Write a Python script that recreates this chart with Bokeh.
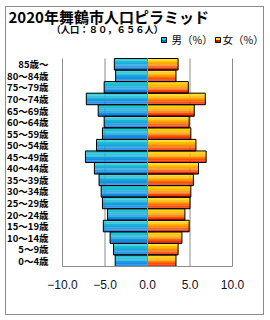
from bokeh.plotting import figure
from bokeh.models import Range1d, FixedTicker, ColumnDataSource
from bokeh.core.properties import value
from bokeh.embed import file_html
from bokeh.resources import INLINE

# ---- data (bottom to top) ----
ages = ["0～4歳", "5～9歳", "10～14歳", "15～19歳", "20～24歳", "25～29歳",
        "30～34歳", "35～39歳", "40～44歳", "45～49歳", "50～54歳", "55～59歳",
        "60～64歳", "65～69歳", "70～74歳", "75～79歳", "80～84歳", "85歳～"]
male = [3.8, 4.0, 4.4, 5.2, 4.7, 5.3, 5.45, 5.7, 6.25, 7.3,
        6.0, 5.3, 5.1, 5.8, 7.2, 5.1, 3.75, 3.9]
female = [3.35, 3.6, 4.05, 4.9, 4.4, 5.0, 5.1, 5.4, 6.0, 6.9,
          5.7, 5.1, 4.9, 5.5, 6.8, 4.8, 3.35, 3.6]
x_ticks = [-10, -5, 0, 5, 10]
x_tick_labels = ["−10.0", "−5.0", "0.0", "5.0", "10.0"]
title_text = "2020年舞鶴市人口ピラミッド"
subtitle_text = "（人口：８０，６５６人）"
legend_labels = ["男（%）", "女（%）"]

# ---- layout: canvas sits inside a 1px CSS frame, page coords below ----
OX, OY = 6, 7
W, H = 259, 309
N = len(ages)
X0P, X1P = 62, 232        # page x of -10 and 10
YBP, YTP = 266, 58        # page y of bottom and top of the category band
KX = (X1P - X0P) / 20.0
KY = (YBP - YTP) / float(N)
x_start = -10 - (X0P - OX) / KX
x_end = 10 + (OX + W - X1P) / KX
y_start = -0.5 - (OY + H - YBP) / KY
y_end = N - 0.5 + (YTP - OY) / KY

FONT = "Noto Sans CJK JP"
GRID = "#8c8c8c"


def px(sx):
    return -10 + (sx - X0P) / KX


def py(sy):
    return -0.5 + (YBP - sy) / KY


p = figure(width=W, height=H, x_range=Range1d(x_start, x_end),
           y_range=Range1d(y_start, y_end),
           output_backend="svg", toolbar_location=None, title=None,
           min_border=0)
p.outline_line_color = None
p.background_fill_color = "white"
p.border_fill_color = "white"
p.xgrid.grid_line_color = None
p.ygrid.grid_line_color = None
p.styles = {"margin-left": "%dpx" % (OX - 1), "margin-top": "%dpx" % (OY - 1),
            "border": "1px solid #8c8c8c"}


def lerp(c1, c2, t):
    a = [int(c1[i:i + 2], 16) for i in (1, 3, 5)]
    b = [int(c2[i:i + 2], 16) for i in (1, 3, 5)]
    return "#%02x%02x%02x" % tuple(int(round(a[j] + (b[j] - a[j]) * t)) for j in range(3))


def grad(stops, t):
    seg = (len(stops) - 1) * t
    i = min(int(seg), len(stops) - 2)
    return lerp(stops[i], stops[i + 1], seg - i)


male_stops = ["#22d6d2", "#18a8dc", "#0c74e2"]
female_stops = ["#fff000", "#ff9a00", "#e80a00"]

pos = list(range(N))
lo, hi = -0.5, N - 0.5

# vertical gridlines within the category band
p.segment(x0=x_ticks, y0=[lo] * len(x_ticks), x1=x_ticks, y1=[hi] * len(x_ticks),
          line_color=GRID, line_width=1)

# gradient bars
BH = 1.0
NS = 10
for k in range(NS):
    t = (k + 0.5) / NS
    off = BH / 2 - t * BH
    s = ColumnDataSource(dict(y=[y + off for y in pos], m=[-v for v in male], f=female))
    p.hbar(y="y", left="m", right=0, height=BH / NS + 0.01, source=s,
           fill_color=grad(male_stops, t), line_color=None)
    p.hbar(y="y", left=0, right="f", height=BH / NS + 0.01, source=s,
           fill_color=grad(female_stops, t), line_color=None)

src = ColumnDataSource(dict(pos=pos, m=[-v for v in male], f=female, zero=[0] * N))
p.hbar(y="pos", left="m", right="zero", height=BH, source=src,
       fill_color=None, line_color="black", line_width=1)
p.hbar(y="pos", left="zero", right="f", height=BH, source=src,
       fill_color=None, line_color="black", line_width=1)

# category axis line at 0 (over the bars)
p.segment(x0=[0], y0=[lo], x1=[0], y1=[hi], line_color=GRID, line_width=1)

# x axis at the bottom of the band
p.xaxis.fixed_location = lo
p.xaxis.bounds = (x_ticks[0], x_ticks[-1])
p.xaxis.ticker = FixedTicker(ticks=x_ticks)
p.xaxis.major_label_overrides = dict(zip(x_ticks, x_tick_labels))
p.xaxis.axis_line_color = GRID
p.xaxis.major_tick_line_color = None
p.xaxis.minor_tick_line_color = None
p.xaxis.major_label_standoff = 7
p.xaxis.major_label_text_font = "Liberation Sans"
p.xaxis.major_label_text_font_size = "12px"
p.xaxis.major_label_text_color = "#10102a"

# y axis at -10
p.yaxis.fixed_location = x_ticks[0]
p.yaxis.ticker = FixedTicker(ticks=pos)
p.yaxis.major_label_overrides = {i: ages[i] for i in pos}
p.yaxis.axis_line_color = None
p.yaxis.major_tick_line_color = None
p.yaxis.minor_tick_line_color = None
p.yaxis.major_label_standoff = 8
p.yaxis.major_label_text_font = FONT
p.yaxis.major_label_text_font_style = "bold"
p.yaxis.major_label_text_font_size = "9.5px"
p.yaxis.major_label_text_color = "black"

# title and subtitle
p.text(x=[px(8)], y=[py(15.5)], text=[title_text], text_font=value(FONT),
       text_font_style="bold", text_font_size="15px", text_baseline="middle",
       text_align="left", text_color="black")
p.text(x=[px(51)], y=[py(28)], text=[subtitle_text], text_font=value(FONT),
       text_font_style="bold", text_font_size="9.3px", text_baseline="middle",
       text_align="left", text_color="black")

# legend
for sx0, tx, stops, lab in ((161, 171, male_stops, legend_labels[0]),
                            (215, 222, female_stops, legend_labels[1])):
    p.quad(left=[px(sx0)], right=[px(sx0 + 5)], top=[py(37)], bottom=[py(39.5)],
           fill_color=stops[0], line_color=None)
    p.quad(left=[px(sx0)], right=[px(sx0 + 5)], top=[py(39.5)], bottom=[py(42)],
           fill_color=stops[2], line_color=None)
    p.quad(left=[px(sx0)], right=[px(sx0 + 5)], top=[py(37)], bottom=[py(42)],
           fill_color=None, line_color="black", line_width=1)
    p.text(x=[px(tx)], y=[py(38.5)], text=[lab], text_font=value(FONT),
           text_font_size="10.5px", text_baseline="middle", text_align="left",
           text_color="black")

open("out.html", "w").write(file_html(p, INLINE))
